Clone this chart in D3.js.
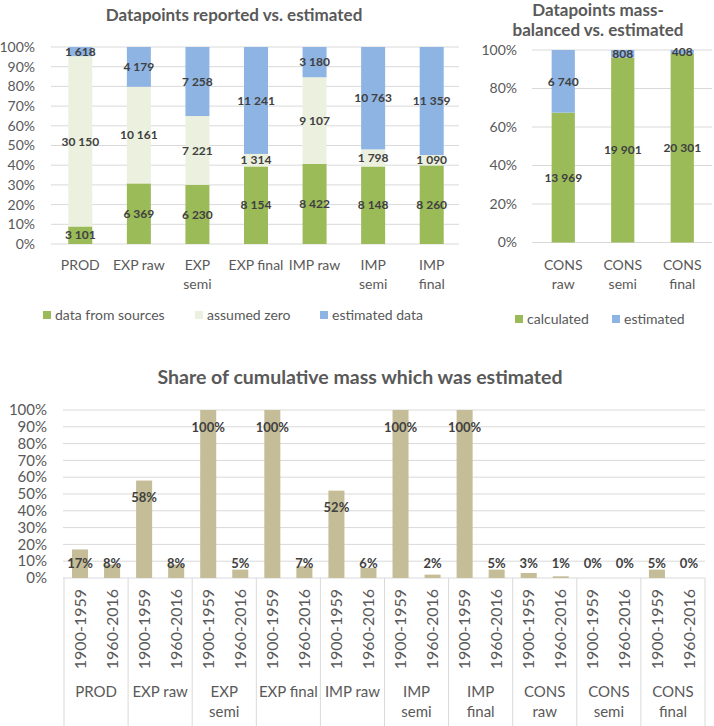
<!DOCTYPE html>
<html><head><meta charset="utf-8">
<script src="https://cdn.jsdelivr.net/npm/d3@7"></script>
<style>
body{margin:0;background:#fff;}
svg{display:block;font-family:Lato,"Open Sans",sans-serif;}
</style></head>
<body><svg id="c" width="714" height="726"></svg>
<script>
// ---------- data ----------
const catsA = ["PROD","EXP raw","EXP semi","EXP final","IMP raw","IMP semi","IMP final"];
const fromSources = [3101,6369,6230,8154,8422,8148,8260];
const assumedZero = [30150,10161,7221,1314,9107,1798,1090];
const estimatedA = [1618,4179,7258,11241,3180,10763,11359];
const seriesA = ["data from sources","assumed zero","estimated data"];

const catsB = ["CONS raw","CONS semi","CONS final"];
const calculated = [13969,19901,20301];
const estimatedB = [6740,808,408];
const seriesB = ["calculated","estimated"];

const groups = ["PROD","EXP raw","EXP semi","EXP final","IMP raw","IMP semi","IMP final","CONS raw","CONS semi","CONS final"];
const periods = ["1900-1959","1960-2016"];
const share1900 = [17,58,100,100,52,100,100,3,0,5];
const share1960 = [8,8,5,7,6,2,5,1,0,0];

const ticksA = [0,0.1,0.2,0.3,0.4,0.5,0.6,0.7,0.8,0.9,1];
const ticksB = [0,0.2,0.4,0.6,0.8,1];
const ticksC = [0,0.1,0.2,0.3,0.4,0.5,0.6,0.7,0.8,0.9,1];

// ---------- style ----------
const GREEN="#9BBB59", LIGHT="#EBF1DE", BLUE="#8DB4E2", TAN="#C4BD97";
const GRID="#D9D9D9", AX="#595959", LBL="#404040";
const singleLine = new Set(["PROD","EXP raw","EXP final","IMP raw"]);
const fmt = d3.formatLocale({decimal:".",thousands:"\u00a0",grouping:[3],currency:["",""]}).format(",");
const pct = d3.format(".0%");

const svg = d3.select("#c");

function catLabel(g, x, y, name, size, lh){
  const t = g.append("text").attr("x",x).attr("y",y).attr("text-anchor","middle")
    .attr("font-size",size).attr("fill",AX);
  const lines = singleLine.has(name) ? [name] : name.split(" ");
  lines.forEach((l,i)=>t.append("tspan").attr("x",x).attr("dy", i?lh:0).text(l));
}

// ---------- chart A ----------
(function(){
  const g = svg.append("g");
  const y = d3.scaleLinear().domain([0,1]).range([244,47]);
  const x = d3.scaleBand().domain(catsA).range([51,461]).paddingInner(0.59).paddingOuter(0.295);
  g.append("text").attr("x",234).attr("y",21).attr("text-anchor","middle")
    .attr("font-size",17).attr("font-weight","bold").attr("fill",AX).text("Datapoints reported vs. estimated");
  g.selectAll("line.grid").data(ticksA).join("line")
    .attr("x1",51).attr("x2",459).attr("y1",d=>y(d)).attr("y2",d=>y(d))
    .attr("stroke",GRID).attr("stroke-width",1);
  g.selectAll("text.yt").data(ticksA).join("text")
    .attr("x",35).attr("y",d=>y(d)).attr("dy","0.35em").attr("text-anchor","end")
    .attr("font-size",14).attr("fill",AX).text(d=>pct(d));
  const rows = catsA.map((c,i)=>({cat:c,[seriesA[0]]:fromSources[i],[seriesA[1]]:assumedZero[i],[seriesA[2]]:estimatedA[i]}));
  const st = d3.stack().keys(seriesA).offset(d3.stackOffsetExpand)(rows);
  const col = d3.scaleOrdinal().domain(seriesA).range([GREEN,LIGHT,BLUE]);
  st.forEach(s=>{
    g.selectAll(null).data(s).join("rect")
      .attr("x",d=>x(d.data.cat)).attr("width",x.bandwidth())
      .attr("y",d=>y(d[1])).attr("height",d=>y(d[0])-y(d[1])).attr("fill",col(s.key));
  });
  st.forEach(s=>{
    g.selectAll(null).data(s).join("text")
      .attr("x",d=>x(d.data.cat)+x.bandwidth()/2).attr("y",d=>y((d[0]+d[1])/2)).attr("dy","0.35em")
      .attr("text-anchor","middle").attr("font-size",12).attr("font-weight","bold").attr("fill",LBL)
      .text(d=>fmt(d.data[s.key]));
  });
  catsA.forEach(c=>catLabel(g, x(c)+x.bandwidth()/2, 270, c, 14, 19));
  const lx=[43,195,320];
  seriesA.forEach((s,i)=>{
    g.append("rect").attr("x",lx[i]).attr("y",311).attr("width",8).attr("height",8).attr("fill",col(s));
    g.append("text").attr("x",lx[i]+12).attr("y",320).attr("font-size",14).attr("fill",AX).text(s);
  });
})();

// ---------- chart B ----------
(function(){
  const g = svg.append("g");
  const y = d3.scaleLinear().domain([0,1]).range([242.5,50]);
  const x = d3.scaleBand().domain(catsB).range([533.5,712]).paddingInner(0.61).paddingOuter(0.305);
  const t = g.append("text").attr("x",598).attr("y",16).attr("text-anchor","middle")
    .attr("font-size",17).attr("font-weight","bold").attr("fill",AX);
  t.append("tspan").attr("x",598).text("Datapoints mass-");
  t.append("tspan").attr("x",598).attr("dy",19.5).text("balanced vs. estimated");
  g.selectAll("line.grid").data(ticksB).join("line")
    .attr("x1",532).attr("x2",712).attr("y1",d=>y(d)).attr("y2",d=>y(d))
    .attr("stroke",GRID).attr("stroke-width",1);
  g.selectAll("text.yt").data(ticksB).join("text")
    .attr("x",517).attr("y",d=>y(d)).attr("dy","0.35em").attr("text-anchor","end")
    .attr("font-size",14).attr("fill",AX).text(d=>pct(d));
  const rows = catsB.map((c,i)=>({cat:c,[seriesB[0]]:calculated[i],[seriesB[1]]:estimatedB[i]}));
  const st = d3.stack().keys(seriesB).offset(d3.stackOffsetExpand)(rows);
  const col = d3.scaleOrdinal().domain(seriesB).range([GREEN,BLUE]);
  st.forEach(s=>{
    g.selectAll(null).data(s).join("rect")
      .attr("x",d=>x(d.data.cat)).attr("width",x.bandwidth())
      .attr("y",d=>y(d[1])).attr("height",d=>y(d[0])-y(d[1])).attr("fill",col(s.key));
  });
  st.forEach(s=>{
    g.selectAll(null).data(s).join("text")
      .attr("x",d=>x(d.data.cat)+x.bandwidth()/2).attr("y",d=>y((d[0]+d[1])/2)).attr("dy","0.35em")
      .attr("text-anchor","middle").attr("font-size",12).attr("font-weight","bold").attr("fill",LBL)
      .text(d=>fmt(d.data[s.key]));
  });
  catsB.forEach(c=>catLabel(g, x(c)+x.bandwidth()/2, 270, c, 14, 19));
  const lx=[515,612];
  seriesB.forEach((s,i)=>{
    g.append("rect").attr("x",lx[i]).attr("y",315).attr("width",8).attr("height",8).attr("fill",col(s));
    g.append("text").attr("x",lx[i]+12).attr("y",324).attr("font-size",14).attr("fill",AX).text(s);
  });
})();

// ---------- chart C ----------
(function(){
  const g = svg.append("g");
  const y = d3.scaleLinear().domain([0,1]).range([578,410]);
  const xg = d3.scaleBand().domain(groups).range([64,705]);
  const xs = d3.scaleBand().domain(periods).range([0,xg.bandwidth()]).paddingInner(0.5).paddingOuter(0.25);
  g.append("text").attr("x",360).attr("y",384).attr("text-anchor","middle")
    .attr("font-size",19.5).attr("font-weight","bold").attr("fill",AX).text("Share of cumulative mass which was estimated");
  g.selectAll("line.grid").data(ticksC).join("line")
    .attr("x1",63).attr("x2",705).attr("y1",d=>y(d)).attr("y2",d=>y(d))
    .attr("stroke",GRID).attr("stroke-width",1);
  g.selectAll("text.yt").data(ticksC).join("text")
    .attr("x",47).attr("y",d=>y(d)).attr("dy","0.35em").attr("text-anchor","end")
    .attr("font-size",15).attr("fill",AX).text(d=>pct(d));
  const bounds = groups.map(d=>xg(d)).concat([xg.range()[1]]);
  g.selectAll("line.sep").data(bounds).join("line")
    .attr("x1",d=>d).attr("x2",d=>d).attr("y1",578).attr("y2",726)
    .attr("stroke",GRID).attr("stroke-width",1);
  const bars = [];
  groups.forEach((gr,i)=>{
    bars.push({g:gr,p:periods[0],v:share1900[i]/100});
    bars.push({g:gr,p:periods[1],v:share1960[i]/100});
  });
  g.selectAll("rect.bar").data(bars).join("rect")
    .attr("x",d=>xg(d.g)+xs(d.p)).attr("width",xs.bandwidth())
    .attr("y",d=>y(d.v)).attr("height",d=>y(0)-y(d.v)).attr("fill",TAN);
  g.selectAll("text.dl").data(bars).join("text")
    .attr("x",d=>xg(d.g)+xs(d.p)+xs.bandwidth()/2)
    .attr("y",d=>Math.min(y(d.v)+17, y(0.085)))
    .attr("dy","0.35em").attr("text-anchor","middle").attr("font-size",13).attr("font-weight","bold")
    .attr("fill",LBL).text(d=>pct(d.v));
  g.selectAll("text.per").data(bars).join("text")
    .attr("transform",d=>`translate(${xg(d.g)+xs(d.p)+xs.bandwidth()/2},589) rotate(-90)`)
    .attr("dy","0.35em").attr("text-anchor","end").attr("font-size",16).attr("fill",AX).text(d=>d.p);
  groups.forEach(gr=>catLabel(g, xg(gr)+xg.bandwidth()/2, 697, gr, 15, 20));
})();
</script></body></html>
